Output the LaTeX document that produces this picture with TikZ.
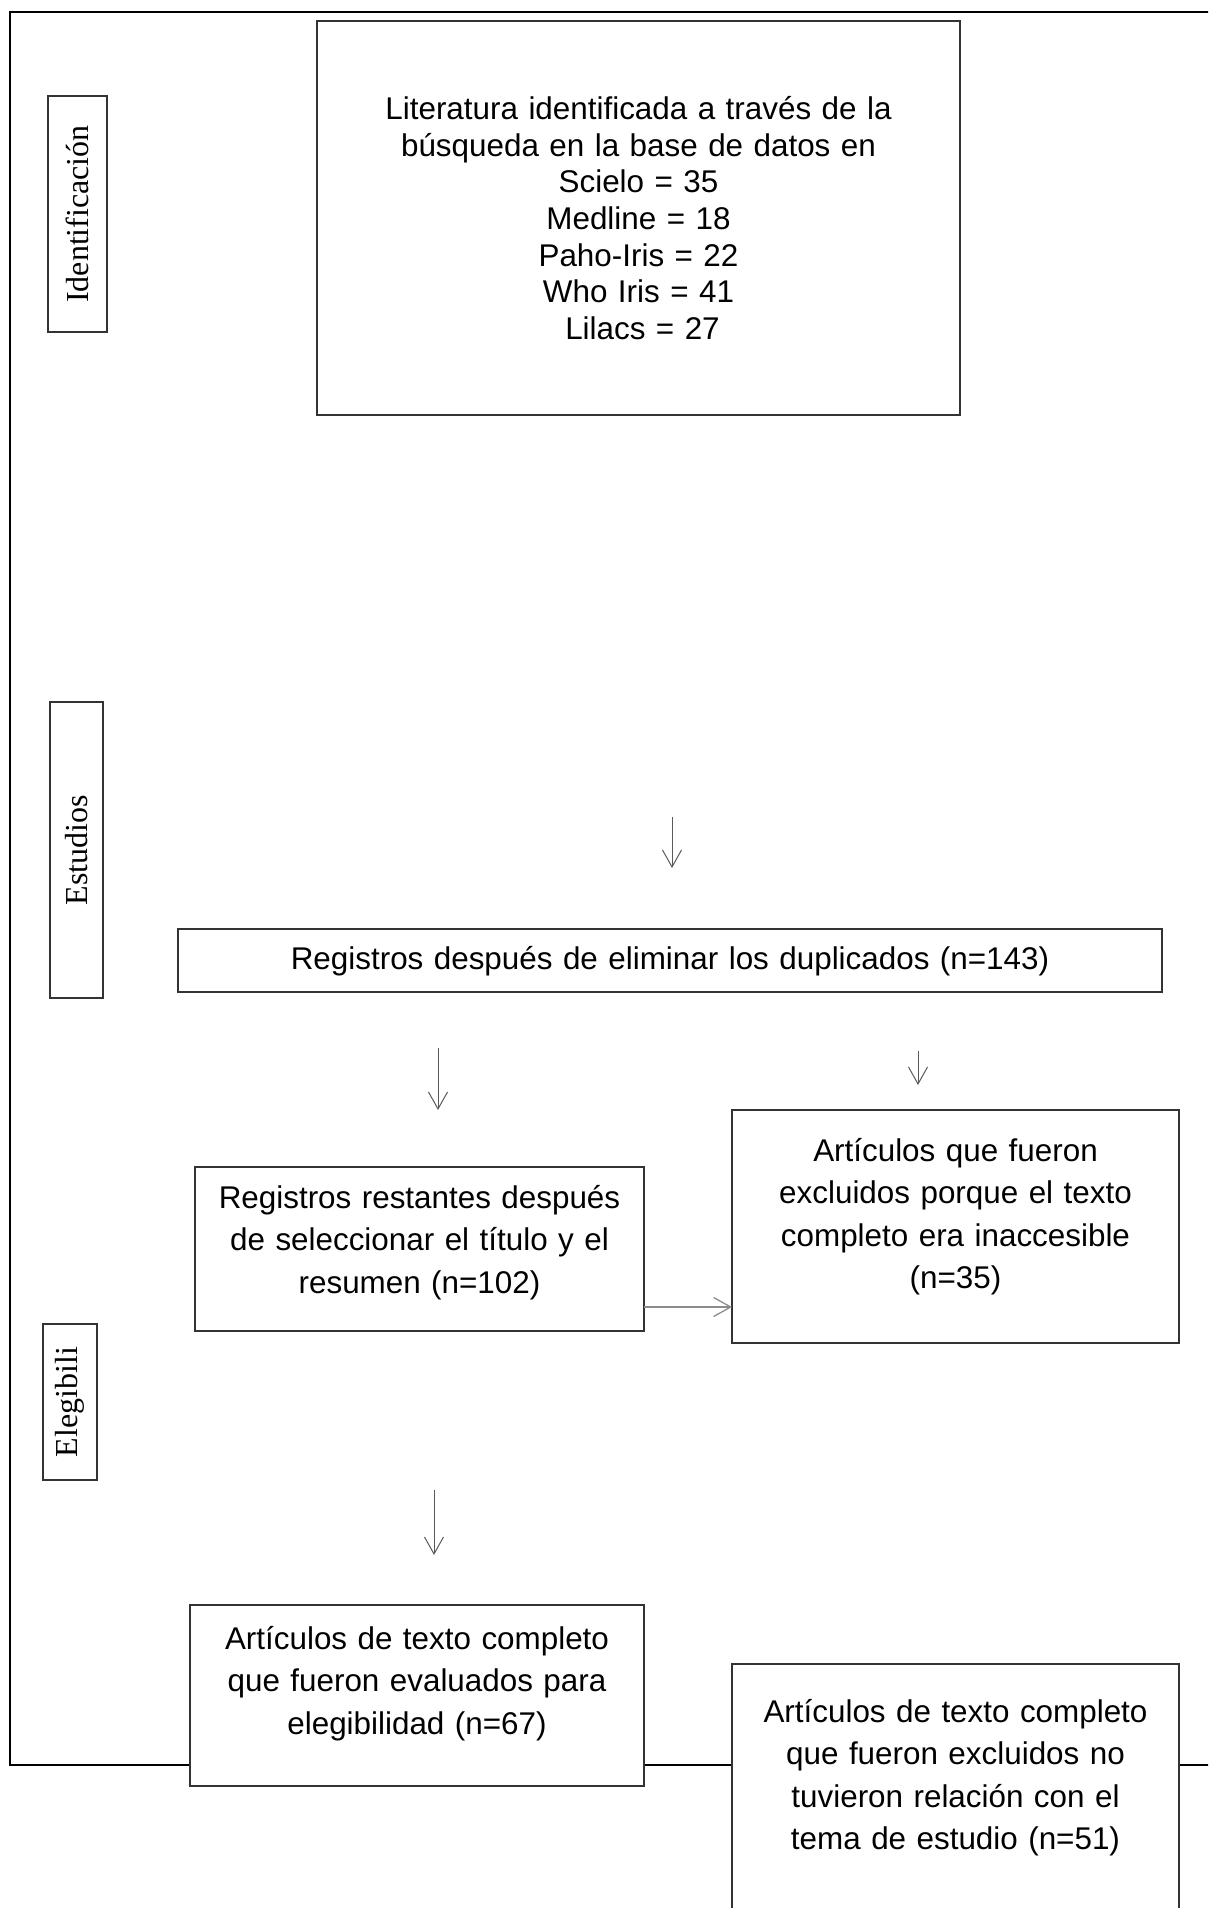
\documentclass[tikz,border=0pt]{standalone}
\usepackage{fontspec}
\setmainfont{Liberation Sans}
\newfontfamily\serifa{Liberation Serif}
\usetikzlibrary{arrows.meta}
\tikzset{
  caja/.style={draw=black!80, fill=white, line width=1.4pt, align=center,
    inner xsep=6pt, inner ysep=0pt, outer sep=0pt, anchor=north,
    font=\fontsize{31.4}{42.5}\selectfont},
  etapa/.style={draw=black!80, fill=white, line width=1.2pt, rotate=90,
    inner sep=0pt, outer sep=0pt, font=\serifa\fontsize{32}{38}\selectfont},
  flecha/.style={draw=black!65, line width=1pt, -{Straight Barb[length=17pt,width=19pt]}},
  marco/.style={draw=black, line width=2.7pt}
}
\begin{document}
\begin{tikzpicture}[x=1pt,y=-1pt]
\useasboundingbox (0,0) rectangle (1208,1908);
\clip (0,0) rectangle (1208,1908);
% marco exterior
\draw[marco] (1220,12) -- (10,12) -- (10,1765) -- (1220,1765);
% etapas
\node[etapa, minimum width=236pt, minimum height=59pt] (ident) at (77.5,214) {Identificación};
\node[etapa, minimum width=296pt, minimum height=53pt] (estud) at (76.5,850) {Estudios};
\node[etapa, minimum width=156pt, minimum height=54pt] (elegi) at (70,1402) {Elegibili};
% cajas
\node[caja, text width=631pt, text height=98.5pt, text depth=295.5pt,
  font=\fontsize{31.4}{36.7}\selectfont] (lit) at (638.5,21)
  {Literatura identificada a través de la\\ búsqueda en la base de datos en\\ Scielo = 35\\ Medline = 18\\ Paho-Iris = 22\\ Who Iris = 41\\ \hspace*{8pt}Lilacs = 27};
\node[caja, text width=972pt, text height=40pt, text depth=23pt] (b143) at (670,929)
  {Registros después de eliminar los duplicados (n=143)};
\node[caja, text width=437pt, text height=41pt, text depth=123pt] (b102) at (419.5,1167)
  {Registros restantes después\\ de seleccionar el título y el\\ resumen (n=102)};
\node[caja, text width=435pt, text height=51pt, text depth=182pt] (b35) at (955.5,1110)
  {Artículos que fueron\\ excluidos porque el texto\\ completo era inaccesible\\ (n=35)};
\node[caja, text width=442pt, text height=44pt, text depth=137pt] (b67) at (417,1605)
  {Artículos de texto completo\\ que fueron evaluados para\\ elegibilidad (n=67)};
\node[caja, text width=435pt, text height=58pt, text depth=208pt] (b51) at (955.5,1664)
  {Artículos de texto completo\\ que fueron excluidos no\\ tuvieron relación con el\\ tema de estudio (n=51)};
% flechas
\coordinate (f1a) at (672,817);  \coordinate (f1b) at (672,868);
\coordinate (f2a) at (438,1048); \coordinate (f2b) at (438,1110);
\coordinate (f3a) at (918,1051); \coordinate (f3b) at (918,1085);
\coordinate (f4a) at (434,1490); \coordinate (f4b) at (434,1555);
\coordinate (f5) at (644,1307);
\draw[flecha] (f1a) -- (f1b);
\draw[flecha] (f2a) -- (f2b);
\draw[flecha] (f3a) -- (f3b);
\draw[flecha] (f4a) -- (f4b);
\draw[flecha, draw=black!45, line width=1.3pt] (f5) -- (f5 -| b35.west);
\end{tikzpicture}
\end{document}
